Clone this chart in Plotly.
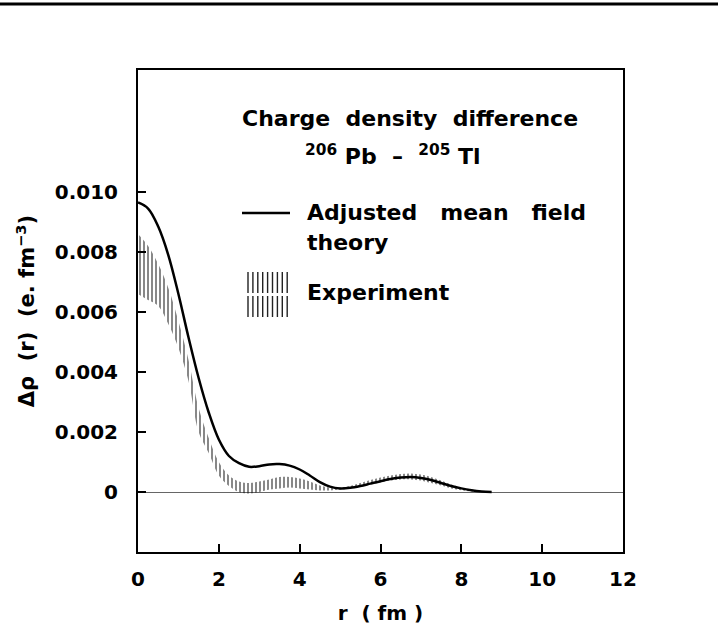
import plotly.graph_objects as go

# ── Data ─────────────────────────────────────────────────────────────────────
R = [0, 0.25, 0.5, 0.75, 1.0, 1.25, 1.5, 1.75, 2.0, 2.25, 2.5, 2.75, 3.0,
     3.25, 3.5, 3.75, 4.0, 4.25, 4.5, 4.75, 5.0, 5.25, 5.5, 5.75, 6.0, 6.25,
     6.5, 6.75, 7.0, 7.25, 7.5, 7.75, 8.0, 8.25, 8.5, 8.75]

# adjusted mean field theory, units of 1e-3 e.fm^-3
THEORY = [9.65, 9.45, 8.85, 7.9, 6.6, 5.15, 3.8, 2.65, 1.75, 1.2, 0.96, 0.84,
          0.86, 0.92, 0.93, 0.88, 0.75, 0.55, 0.33, 0.18, 0.12, 0.14, 0.2,
          0.28, 0.36, 0.43, 0.48, 0.5, 0.47, 0.4, 0.3, 0.2, 0.12, 0.06, 0.02,
          0.0]

# experimental error band, units of 1e-3 e.fm^-3
EXP_UPPER = [8.6, 8.2, 7.6, 6.8, 5.7, 4.4, 2.8, 1.8, 1.0, 0.55, 0.35, 0.3,
             0.35, 0.42, 0.5, 0.5, 0.45, 0.35, 0.22, 0.15, 0.15, 0.2, 0.3,
             0.4, 0.48, 0.55, 0.6, 0.62, 0.58, 0.5, 0.38, 0.25, 0.15, 0.08,
             0.03, 0.0]
EXP_LOWER = [6.6, 6.4, 6.2, 5.6, 4.8, 3.7, 2.0, 1.3, 0.55, 0.2, 0.0, -0.05,
             0.0, 0.08, 0.12, 0.15, 0.12, 0.08, 0.05, 0.05, 0.08, 0.12, 0.18,
             0.25, 0.32, 0.38, 0.42, 0.42, 0.38, 0.3, 0.22, 0.12, 0.06, 0.02,
             0.0, 0.0]

Y_TICKS = [0, 0.002, 0.004, 0.006, 0.008, 0.010]
Y_TICKTEXT = ["0", "0.002", "0.004", "0.006", "0.008", "0.010"]
X_TICKS = [0, 2, 4, 6, 8, 10, 12]

FONT = "DejaVu Sans"
W, H = 718, 637
L, RM, T, B = 138, 95, 70, 85
PW, PH = W - L - RM, H - T - B


def px(x):
    return (x - L) / PW


def py(y):
    return (H - B - y) / PH


scale = lambda vals: [v * 1e-3 for v in vals]
bold = lambda labels: [f"<b>{s}</b>" for s in labels]

fig = go.Figure()

# experiment band (hatched)
fig.add_trace(go.Scatter(
    x=R, y=scale(EXP_UPPER), mode="lines", line=dict(width=0, shape="spline"),
    showlegend=False, hoverinfo="skip",
))
fig.add_trace(go.Scatter(
    x=R, y=scale(EXP_LOWER), mode="lines", line=dict(width=0, shape="spline"),
    fill="tonexty", fillcolor="rgba(0,0,0,0)",
    fillpattern=dict(shape="|", size=4, solidity=0.5, fgcolor="#111",
                     bgcolor="rgba(0,0,0,0)"),
    showlegend=False,
))

# theory curve
fig.add_trace(go.Scatter(
    x=R, y=scale(THEORY), mode="lines",
    line=dict(color="black", width=2.5, shape="spline"),
    showlegend=False,
))

# ── Legend / annotations drawn by hand ───────────────────────────────────────
shapes = [
    # heavy rule at the top of the page
    dict(type="line", xref="paper", yref="paper",
         x0=px(0), x1=px(W), y0=py(4), y1=py(4),
         line=dict(color="black", width=3)),
    # legend line sample
    dict(type="line", xref="paper", yref="paper",
         x0=px(242), x1=px(290), y0=py(213), y1=py(213),
         line=dict(color="black", width=2.5)),
]
# legend hatch sample: two rows of short vertical strokes
for i in range(9):
    xx = 248 + i * 4.9
    for ya, yb in ((272, 293), (296, 317)):
        shapes.append(dict(type="line", xref="paper", yref="paper",
                           x0=px(xx), x1=px(xx), y0=py(ya), y1=py(yb),
                           line=dict(color="#222", width=1.4)))

sp = "\u00a0\u00a0"
sp3 = "\u00a0\u00a0\u00a0"
ann_font = dict(family=FONT, size=22, color="black")
annotations = [
    dict(text=f"<b>Charge{sp}density{sp}difference</b>", x=px(240), y=py(118)),
    dict(text="<b><sup>206</sup>\u00a0Pb\u00a0\u00a0\u2013\u00a0\u00a0<sup>205</sup>\u00a0Tl</b>",
         x=px(303), y=py(155)),
    dict(text=f"<b>Adjusted{sp3}mean{sp3}field</b>", x=px(305), y=py(213)),
    dict(text="<b>theory</b>", x=px(305), y=py(243)),
    dict(text="<b>Experiment</b>", x=px(305), y=py(292)),
]
for a in annotations:
    a.update(xref="paper", yref="paper", xanchor="left", yanchor="middle",
             showarrow=False, font=ann_font)

fig.update_layout(
    width=W, height=H,
    margin=dict(l=L, r=RM, t=T, b=B),
    paper_bgcolor="white", plot_bgcolor="white",
    font=dict(family=FONT, size=20, color="black"),
    shapes=shapes, annotations=annotations,
    xaxis=dict(
        range=[0, 12], tickvals=X_TICKS, ticktext=bold([str(v) for v in X_TICKS]),
        ticks="inside", ticklen=8,
        tickwidth=1.5, tickcolor="black", showline=True, linecolor="black",
        linewidth=2, mirror=True, showgrid=False, zeroline=False,
        tickfont=dict(family=FONT, size=20), ticklabelstandoff=8,
        title=dict(text="<b>r\u00a0\u00a0(\u00a0fm\u00a0)</b>",
                   font=dict(family=FONT, size=20), standoff=16),
    ),
    yaxis=dict(
        range=[-0.002, 0.014067], tickvals=Y_TICKS, ticktext=bold(Y_TICKTEXT),
        ticks="inside", ticklen=8, tickwidth=1.5, tickcolor="black",
        showline=True, linecolor="black", linewidth=2, mirror=True,
        showgrid=False, zeroline=True, zerolinecolor="#666", zerolinewidth=1,
        tickfont=dict(family=FONT, size=20), ticklabelstandoff=14,
        title=dict(
            text="<b>\u0394\u03c1\u00a0\u00a0(r)\u00a0\u00a0(e.\u00a0fm<sup>\u22123</sup>)</b>",
            font=dict(family=FONT, size=21), standoff=14),
    ),
)

# drop the default page margin so the figure sits at the window origin
fig.write_html("out.html", config={"displayModeBar": False},
               post_script="document.body.style.margin='0';")
